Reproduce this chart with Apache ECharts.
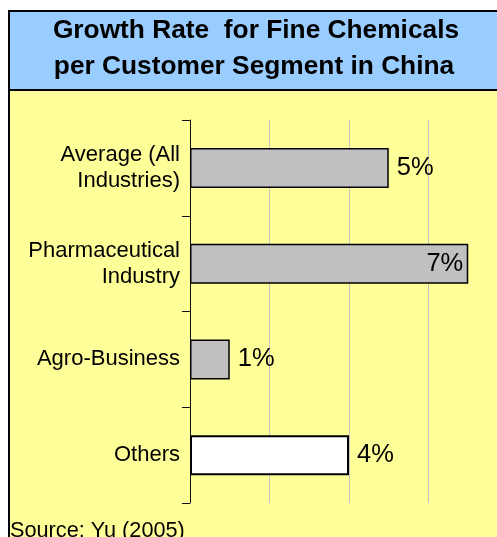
<!DOCTYPE html>
<html>
<head>
<meta charset="utf-8">
<script src="https://cdn.jsdelivr.net/npm/echarts@6/dist/echarts.min.js"></script>
<style>
  html, body { margin: 0; padding: 0; background: #ffffff; }
  #chart { width: 497px; height: 537px; }
</style>
</head>
<body>
<div id="chart"></div>
<script>
// Customer segments, top to bottom
const categories = ['Average (All\nIndustries)', 'Pharmaceutical\nIndustry', 'Agro-Business', 'Others'];
// Growth rate per segment, in percent
const growthRates = [5, 7, 1, 4];
// Bars whose value label sits inside the bar end
const insideLabelSegments = ['Pharmaceutical\nIndustry'];
// Segments drawn with a white fill instead of grey
const highlightSegments = ['Others'];

const titleLines = ['Growth Rate  for Fine Chemicals', 'per Customer Segment in China'];
const sourceNote = 'Source: Yu (2005)';

const FONT = '"Liberation Sans", Arial, sans-serif';

const chart = echarts.init(document.getElementById('chart'), null, { renderer: 'canvas' });

const barData = categories.map((cat, i) => {
  const white = highlightSegments.includes(cat);
  const inside = insideLabelSegments.includes(cat);
  return {
    value: growthRates[i],
    itemStyle: {
      color: white ? '#ffffff' : '#c0c0c0',
      borderColor: '#000000',
      borderWidth: white ? 2 : 1.5
    },
    label: {
      position: inside ? 'insideRight' : 'right',
      distance: inside ? 5 : 8
    }
  };
});

chart.setOption({
  backgroundColor: '#ffffff',
  animation: false,
  graphic: [
    {
      type: 'rect', z: -10, silent: true,
      shape: { x: 9, y: 90, width: 510, height: 470 },
      style: { fill: '#ffff99', stroke: '#000000', lineWidth: 2 }
    },
    {
      type: 'rect', z: -9, silent: true,
      shape: { x: 9, y: 11, width: 510, height: 79 },
      style: { fill: '#99ccff', stroke: '#000000', lineWidth: 2 }
    },
    {
      type: 'text', z: 10, silent: true,
      style: {
        x: 256, y: 31, text: titleLines[0],
        font: 'bold 26.3px ' + FONT, fill: '#000000',
        textAlign: 'center', textVerticalAlign: 'middle'
      }
    },
    {
      type: 'text', z: 10, silent: true,
      style: {
        x: 254, y: 67, text: titleLines[1],
        font: 'bold 26.3px ' + FONT, fill: '#000000',
        textAlign: 'center', textVerticalAlign: 'middle'
      }
    },
    {
      type: 'text', z: 10, silent: true,
      style: {
        x: 10, y: 542, text: sourceNote,
        font: '21.7px ' + FONT, fill: '#000000',
        textAlign: 'left', textVerticalAlign: 'bottom'
      }
    }
  ],
  grid: { left: 190, top: 120, width: 318, height: 383, outerBoundsMode: 'none', containLabel: false },
  xAxis: {
    type: 'value',
    min: 0, max: 8, interval: 2,
    axisLine: { show: false },
    axisTick: { show: false },
    axisLabel: { show: false },
    splitLine: { show: true, lineStyle: { color: '#c4c4c4', width: 1 } }
  },
  yAxis: {
    type: 'category',
    data: categories,
    inverse: true,
    axisLine: { show: true, lineStyle: { color: '#111111', width: 1 } },
    axisTick: { show: true, length: 8, lineStyle: { color: '#111111', width: 1 } },
    axisLabel: {
      margin: 10, color: '#000000', fontFamily: FONT, fontSize: 22,
      lineHeight: 26, align: 'right'
    },
    splitLine: { show: false }
  },
  series: [{
    type: 'bar',
    data: barData,
    barWidth: 40,
    label: {
      show: true, formatter: '{c}%', color: '#000000',
      fontFamily: FONT, fontSize: 25.5
    }
  }]
});
</script>
</body>
</html>
